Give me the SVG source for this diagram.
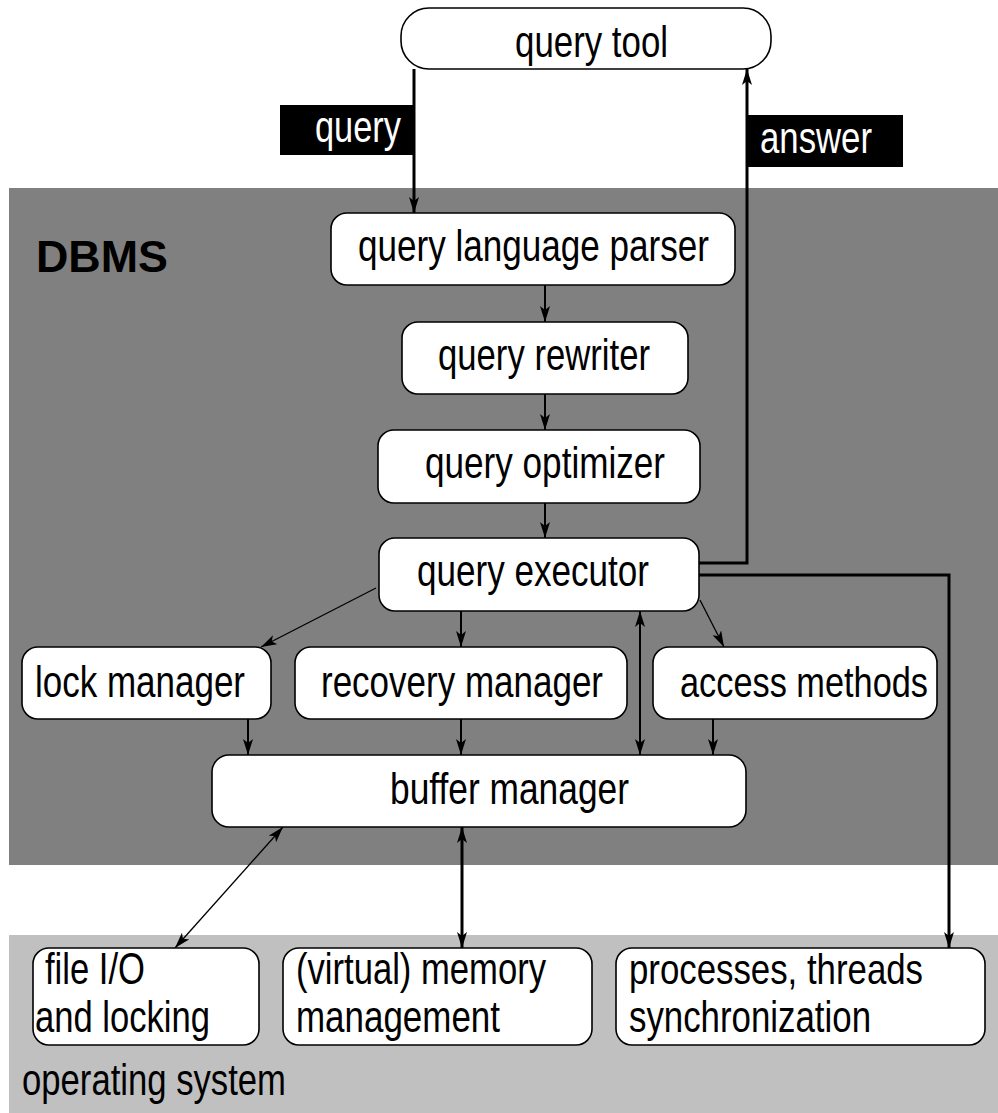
<svg xmlns="http://www.w3.org/2000/svg" width="998" height="1113" viewBox="0 0 998 1113">
<style>
.box{fill:#fff;stroke:#000;stroke-width:1.6}
.t{font-family:"Liberation Sans",Arial,sans-serif;font-size:45px;fill:#000}
.s{font-size:43px}
.w{fill:#fff}
.c{fill:none;stroke:#000}
.thick{stroke-width:3}
.med{stroke-width:2}
.thin{stroke-width:1.3}
</style>
<defs>
<marker id="ah" markerUnits="userSpaceOnUse" markerWidth="16" markerHeight="10" refX="16" refY="5" orient="auto-start-reverse" viewBox="0 0 16 10">
<path d="M0,0 L16,5 L0,10 L4,5 Z" fill="#000"/>
</marker>
</defs>
<rect width="998" height="1113" fill="#fff"/>
<rect id="dbms-area" x="9" y="188" width="989" height="677" fill="#808080"/>
<rect id="os-area" x="9" y="935" width="989" height="178" fill="#c0c0c0"/>
<text class="t" x="36" y="272" font-size="57" font-weight="bold" textLength="132" lengthAdjust="spacingAndGlyphs">DBMS</text>
<text class="t" x="22" y="1095" textLength="264" lengthAdjust="spacingAndGlyphs">operating system</text>

<g id="connectors">
<rect x="280" y="105" width="134" height="50" fill="#000"/>
<text class="t w" x="315" y="142" textLength="86" lengthAdjust="spacingAndGlyphs">query</text>
<rect x="748" y="115" width="155" height="52" fill="#000"/>
<text class="t w" x="760" y="153" textLength="112" lengthAdjust="spacingAndGlyphs">answer</text>
<path class="c thick" d="M414,69 V213" marker-end="url(#ah)"/>
<path class="c thick" d="M699,563 H747 V69" marker-end="url(#ah)"/>
<path class="c thick" d="M699,575 H949 V948" marker-end="url(#ah)"/>
<path class="c med" d="M545,285 V322" marker-end="url(#ah)"/>
<path class="c med" d="M545,394 V430" marker-end="url(#ah)"/>
<path class="c med" d="M545,503 V538" marker-end="url(#ah)"/>
<path class="c thin" d="M376,588 L261,647" marker-end="url(#ah)"/>
<path class="c med" d="M461,611 V647" marker-end="url(#ah)"/>
<path class="c med" d="M640,611 V755" marker-start="url(#ah)" marker-end="url(#ah)"/>
<path class="c thin" d="M700,600 L724,647" marker-end="url(#ah)"/>
<path class="c med" d="M248,719 V755" marker-end="url(#ah)"/>
<path class="c med" d="M461,719 V755" marker-end="url(#ah)"/>
<path class="c med" d="M713,719 V755" marker-end="url(#ah)"/>
<path class="c thin" d="M283,827 L175,948" marker-start="url(#ah)" marker-end="url(#ah)"/>
<path class="c thick" d="M462,827 V948" marker-start="url(#ah)" marker-end="url(#ah)"/>
</g>

<g id="query-tool"><rect class="box" x="401" y="8" width="370" height="61" rx="28"/><text class="t" x="515" y="57" textLength="153" lengthAdjust="spacingAndGlyphs">query tool</text></g>
<g id="parser"><rect class="box" x="331" y="213" width="404" height="72" rx="16"/><text class="t" x="358" y="261" textLength="351" lengthAdjust="spacingAndGlyphs">query language parser</text></g>
<g id="rewriter"><rect class="box" x="402" y="322" width="286" height="72" rx="16"/><text class="t" x="438" y="370" textLength="212" lengthAdjust="spacingAndGlyphs">query rewriter</text></g>
<g id="optimizer"><rect class="box" x="378" y="430" width="322" height="73" rx="16"/><text class="t" x="425" y="478" textLength="240" lengthAdjust="spacingAndGlyphs">query optimizer</text></g>
<g id="executor"><rect class="box" x="379" y="538" width="320" height="73" rx="16"/><text class="t" x="417" y="586" textLength="232" lengthAdjust="spacingAndGlyphs">query executor</text></g>
<g id="lock-manager"><rect class="box" x="22" y="647" width="249" height="72" rx="16"/><text class="t" x="35" y="697" textLength="210" lengthAdjust="spacingAndGlyphs">lock manager</text></g>
<g id="recovery-manager"><rect class="box" x="295" y="647" width="332" height="72" rx="16"/><text class="t" x="321" y="697" textLength="282" lengthAdjust="spacingAndGlyphs">recovery manager</text></g>
<g id="access-methods"><rect class="box" x="653" y="647" width="284" height="72" rx="16"/><text class="t s" x="680" y="697" textLength="248" lengthAdjust="spacingAndGlyphs">access methods</text></g>
<g id="buffer-manager"><rect class="box" x="212" y="755" width="534" height="72" rx="17"/><text class="t" x="390" y="804" textLength="239" lengthAdjust="spacingAndGlyphs">buffer manager</text></g>
<g id="file-io"><rect class="box" x="33" y="948" width="226" height="97" rx="16"/><text class="t" x="45" y="984" textLength="100" lengthAdjust="spacingAndGlyphs">file I/O</text><text class="t" x="35" y="1032" textLength="175" lengthAdjust="spacingAndGlyphs">and locking</text></g>
<g id="memory"><rect class="box" x="283" y="948" width="309" height="97" rx="16"/><text class="t" x="296" y="984" textLength="250" lengthAdjust="spacingAndGlyphs">(virtual) memory</text><text class="t" x="296" y="1032" textLength="204" lengthAdjust="spacingAndGlyphs">management</text></g>
<g id="processes"><rect class="box" x="616" y="948" width="369" height="97" rx="16"/><text class="t s" x="629" y="984" textLength="294" lengthAdjust="spacingAndGlyphs">processes, threads</text><text class="t" x="629" y="1032" textLength="242" lengthAdjust="spacingAndGlyphs">synchronization</text></g>
</svg>
